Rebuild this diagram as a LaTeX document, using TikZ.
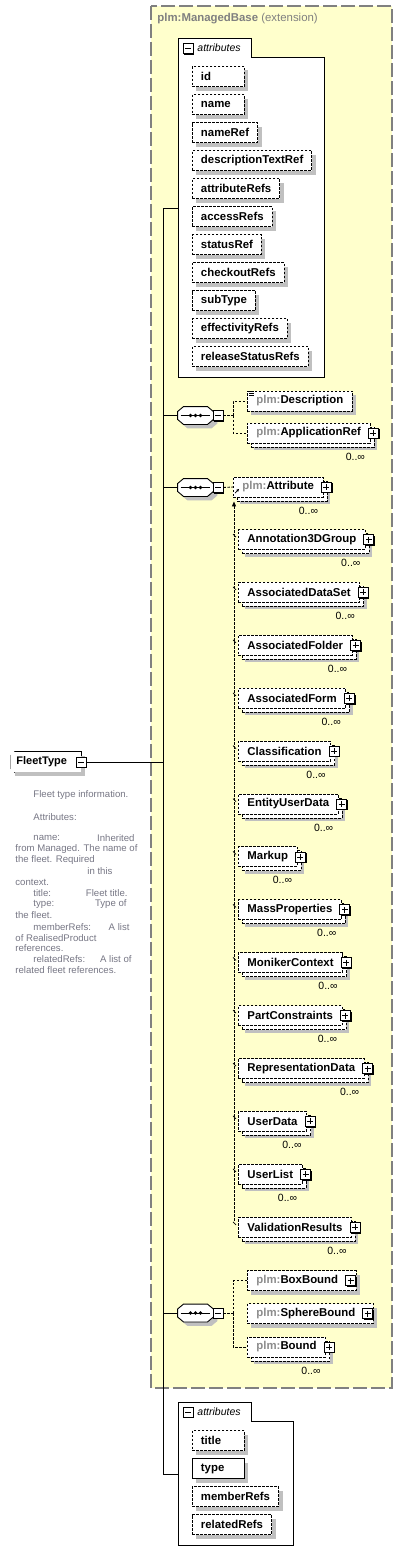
\documentclass[tikz,border=0pt]{standalone}
\usepackage{fontspec}
\setmainfont{Liberation Sans}
\usetikzlibrary{shadows,calc,arrows.meta}

\definecolor{extfill}{RGB}{255,255,204}
\definecolor{extborder}{RGB}{128,128,128}
\definecolor{nsgray}{RGB}{140,140,140}
\definecolor{shadowgray}{RGB}{192,192,192}
\definecolor{doccolor}{RGB}{118,118,132}

\newcommand{\ns}[1]{\textcolor{nsgray}{#1}}
\newlength{\attrw}
\newcommand{\attrname}[1]{\settowidth{\attrw}{#1}\ifdim\attrw<35pt\makebox[35pt][l]{#1}\else#1\fi}

\tikzset{every picture/.style={line width=0.9pt}}
\tikzset{
  extbox/.style={draw=extborder, fill=extfill, line width=1.3pt, dash pattern=on 14pt off 4pt},
  exttitle/.style={text=extborder, anchor=west, inner sep=0pt, font=\fontsize{11.4}{12}\selectfont\bfseries},
  grp/.style={draw, fill=white},
  grplabel/.style={anchor=west, inner sep=0pt, font=\fontsize{10.5}{12}\selectfont\itshape},
  elem/.style={draw, dash pattern=on 2.5pt off 1.5pt, fill=white, anchor=west,
    font=\fontsize{11.4}{12}\selectfont\bfseries, inner xsep=9pt, inner ysep=0pt, minimum height=20pt},
  single/.style={drop shadow={shadow xshift=4pt, shadow yshift=-4pt, fill=shadowgray, opacity=1}},
  stack/.style={drop shadow={shadow xshift=7pt, shadow yshift=-7pt, fill=shadowgray, opacity=1},
    copy shadow={shadow xshift=4pt, shadow yshift=-4pt, draw=black, fill=white}},
  attr/.style={elem, single, inner xsep=8.5pt, minimum height=20pt},
  card/.style={inner sep=0pt, font=\fontsize{10.5}{12}\selectfont},
  boxbase/.style={draw, solid, fill=white, minimum size=10pt, inner sep=0pt, line width=0.8pt,
    drop shadow={shadow xshift=1.3pt, shadow yshift=-1.3pt, fill=black, opacity=1}},
  plusbox/.style={boxbase, path picture={
    \draw ($(path picture bounding box.north)!0.2!(path picture bounding box.south)$) -- ($(path picture bounding box.north)!0.8!(path picture bounding box.south)$);
    \draw ($(path picture bounding box.west)!0.2!(path picture bounding box.east)$) -- ($(path picture bounding box.west)!0.8!(path picture bounding box.east)$);}},
  minusbox/.style={boxbase, path picture={
    \draw ($(path picture bounding box.west)!0.2!(path picture bounding box.east)$) -- ($(path picture bounding box.west)!0.8!(path picture bounding box.east)$);}},
  seqbox/.style={minimum width=35pt, minimum height=17pt, inner sep=0pt,
    append after command={\pgfextra{
      \draw[solid, fill=white, drop shadow={shadow xshift=4pt, shadow yshift=-4pt, fill=shadowgray, opacity=1}]
        ($(\tikzlastnode.north west)+(6,0)$) -- ($(\tikzlastnode.north east)+(-6,0)$)
        -- ($(\tikzlastnode.north east)+(0,5)$) -- ($(\tikzlastnode.south east)+(0,-5)$)
        -- ($(\tikzlastnode.south east)+(-6,0)$) -- ($(\tikzlastnode.south west)+(6,0)$)
        -- ($(\tikzlastnode.south west)+(0,-5)$) -- ($(\tikzlastnode.north west)+(0,5)$) -- cycle;
      \draw[solid] ($(\tikzlastnode.west)+(3,0)$) -- ($(\tikzlastnode.east)+(-3,0)$);
      \foreach \d in {-5,0,5} \fill ($(\tikzlastnode.center)+(\d,0)$) circle (1.8pt);
    }}},
  rootshape/.style={fill=white, anchor=west, minimum height=20pt, inner xsep=5pt, inner ysep=0pt,
    font=\fontsize{11}{12}\selectfont\bfseries,
    drop shadow={shadow xshift=4pt, shadow yshift=-4pt, fill=shadowgray, opacity=1},
    append after command={\pgfextra{
      \draw[fill=none] ($(\tikzlastnode.north west)+(4,0)$) -- (\tikzlastnode.north east)
        -- (\tikzlastnode.south east) -- ($(\tikzlastnode.south west)+(4,0)$)
        -- ($(\tikzlastnode.south west)+(0,-4)$) -- ($(\tikzlastnode.north west)+(0,4)$) -- cycle;
    }}},
  dashln/.style={dash pattern=on 2.5pt off 1.5pt},
  doc/.style={text=doccolor, inner sep=0pt, font=\fontsize{9.6}{11}\selectfont},
}

\begin{document}
\begin{tikzpicture}[x=1pt,y=1pt,yscale=-1,xscale=1]
\useasboundingbox (0,0) rectangle (403,1563);

%Extension box
\draw[extbox] (151,6) rectangle (392,1388);
\node[exttitle] (exttitle) at (157,19) {plm:ManagedBase \mdseries(extension)};

%Inherited attributes
\draw[grp] (178,377) -- (178,38) -- (251,38) -- (251,57) -- (324,57) -- (324,377) -- cycle;
\node[minusbox] (topgrpm) at (188,48.5) {};
\node[grplabel] (topgrp) at (197,48) {attributes};
\foreach \nm [count=\i] in {id,name,nameRef,descriptionTextRef,attributeRefs,accessRefs,statusRef,checkoutRefs,subType,effectivityRefs,releaseStatusRefs}
  \node[attr] (ba\i) at (192,{48.5+28*\i}) {\attrname{\nm}};

%Root element
\node[rootshape] (ft) at (11,762) {FleetType\kern9pt};
\node[minusbox] (ftm) at (81,762) {};

%Documentation
\node[doc, anchor=west] (d1) at (33,795) {Fleet type information.};
\node[doc, anchor=west] (d2) at (33,817) {Attributes:};
\node[doc, anchor=west] (d3) at (33,838) {name:};
\node[doc, anchor=east] (d3b) at (135,838) {Inherited};
\node[doc, anchor=west] (d4) at (15,849) {from Managed. The name of};
\node[doc, anchor=west] (d5) at (15,860) {the fleet. Required};
\node[doc, anchor=west] (d6) at (87,871) {in this};
\node[doc, anchor=west] (d7) at (15,882) {context.};
\node[doc, anchor=west] (d8) at (33,893) {title:};
\node[doc, anchor=east] (d8b) at (128,893) {Fleet title.};
\node[doc, anchor=west] (d9) at (33,904) {type:};
\node[doc, anchor=east] (d9b) at (127,904) {Type of};
\node[doc, anchor=west] (d10) at (15,915) {the fleet.};
\node[doc, anchor=west] (d11) at (33,927) {memberRefs:};
\node[doc, anchor=east] (d11b) at (130,927) {A list};
\node[doc, anchor=west] (d12) at (15,938) {of RealisedProduct};
\node[doc, anchor=west] (d13) at (15,948) {references.};
\node[doc, anchor=west] (d14) at (33,959) {relatedRefs:};
\node[doc, anchor=east] (d14b) at (132,959) {A list of};
\node[doc, anchor=west] (d15) at (15,970) {related fleet references.};

%Trunk
\coordinate (trunktop) at (163,208);
\coordinate (trunkbot) at (163,1474);
\coordinate (topgrpin) at (178,208);
\coordinate (botgrpin) at (178,1474);
\draw (ftm.east) -- (ftm.east -| trunktop);
\draw (trunktop) -- (trunkbot);
\draw (trunktop) -- (topgrpin);
\draw (trunkbot) -- (botgrpin);

%Sequence 1
\node[seqbox] (sq1) at (195.5,415.5) {};
\node[minusbox] (sq1m) at (218,415.5) {};
\draw (sq1.west -| trunktop) -- (sq1.west);
\node[elem, single] (desc) at (247,401) {\ns{plm:}Description};
\foreach \k in {1,3,5} \draw[line width=0.6pt] ($(desc.north west)+(2,\k)$) -- ($(desc.north west)+(7,\k)$);
\node[elem, stack] (appref) at (247,433) {\ns{plm:}ApplicationRef};
\node[plusbox] (apprefp) at ($(appref.east)+(3,0)$) {};
\node[card] (apprefc) at ($(appref.south east)+(-15,13)$) {0..∞};
\coordinate (b1) at ($(sq1m.east)+(10,0)$);
\draw[dashln] (sq1m.east) -- (b1);
\draw[dashln] (b1) |- (desc.west);
\draw[dashln] (b1) |- (appref.west);

%Sequence 2
\node[seqbox] (sq2) at (195.5,487.5) {};
\node[minusbox] (sq2m) at (218,487.5) {};
\draw (sq2.west -| trunktop) -- (sq2.west);
\node[elem, stack] (attr) at (233,487) {\ns{plm:}Attribute};
\node[plusbox] (attrp) at ($(attr.east)+(3,0)$) {};
\node[card] (attrc) at ($(attr.south east)+(-15,13)$) {0..∞};
\draw[line width=0.7pt, -{Triangle[length=2.5pt,width=2.5pt]}] ($(attr.west)+(2,6)$) -- ($(attr.west)+(6,2)$);
\draw[dashln] (sq2m.east) -- (attr.west);

%Substitution group members
\foreach \nm [count=\i] in {Annotation3DGroup,AssociatedDataSet,AssociatedFolder,AssociatedForm,Classification,EntityUserData,Markup,MassProperties,MonikerContext,PartConstraints,RepresentationData,UserData,UserList,ValidationResults}{
  \node[elem, stack] (s\i) at (238,{539.5+52.9*(\i-1)}) {\nm};
  \node[plusbox] (s\i p) at ($(s\i.east)+(3,0)$) {};
  \node[card] (s\i c) at ($(s\i.south east)+(-15,13)$) {0..∞};
  \draw[line width=0.7pt] ($(s\i.north west)+(-5,5)$) -- ($(s\i.north west)+(-2,8)$);
}
\coordinate (subtop) at ($(attr.south west)+(1,4)$);
\coordinate (subend) at ($(subtop |- s14.north west)+(0,5)$);
\draw[dashln, {Triangle[length=5pt,width=4pt]}-] (subtop) -- (subend);

%Sequence 3
\node[seqbox] (sq3) at (195.5,1313) {};
\node[minusbox] (sq3m) at (218,1313) {};
\draw (sq3.west -| trunktop) -- (sq3.west);
\node[elem, single] (boxb) at (247,1280.5) {\ns{plm:}BoxBound\kern9pt};
\node[plusbox] (boxbp) at ($(boxb.east)+(-6,0)$) {};
\node[elem, single] (sphb) at (247,1313.5) {\ns{plm:}SphereBound\kern9pt};
\node[plusbox] (sphbp) at ($(sphb.east)+(-6,0)$) {};
\node[elem, stack] (bnd) at (247,1347) {\ns{plm:}Bound};
\node[plusbox] (bndp) at ($(bnd.east)+(3,0)$) {};
\node[card] (bndc) at ($(bnd.south east)+(-15,13)$) {0..∞};
\coordinate (b3) at ($(sq3m.east)+(10,0)$);
\draw[dashln] (sq3m.east) -- (b3);
\draw[dashln] (b3) |- (boxb.west);
\draw[dashln] (b3) |- (bnd.west);

%Own attributes
\draw[grp] (178,1545) -- (178,1402) -- (251,1402) -- (251,1421) -- (293,1421) -- (293,1545) -- cycle;
\node[minusbox] (botgrpm) at (188,1412) {};
\node[grplabel] (botgrp) at (197,1411.5) {attributes};
\node[attr] (ta1) at (192,1440.5) {\attrname{title}};
\node[attr, solid] (ta2) at (192,1468.5) {\attrname{type}};
\node[attr] (ta3) at (192,1496.5) {memberRefs};
\node[attr] (ta4) at (192,1524.5) {relatedRefs};

\end{tikzpicture}
\end{document}
